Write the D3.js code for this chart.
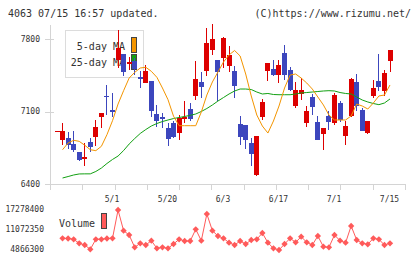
<!DOCTYPE html>
<html><head><meta charset="utf-8">
<script src="https://cdn.jsdelivr.net/npm/d3@7"></script>
<style>
html,body{margin:0;padding:0;background:#fff;}
svg{display:block;}
text{font-family:"DejaVu Sans Mono","Liberation Mono",monospace;fill:#333;}
</style></head><body>
<svg id="c" width="420" height="259"></svg>
<script>
// ---- data ----
const tickIndex  = [10, 20, 30, 40, 50, 60];
const tickLabels = ['5/1', '5/20', '6/3', '6/17', '7/1', '7/15'];
const priceTicks = [6400, 7100, 7800];
const volumeTicks = [4866300, 11072350, 17278400];

const open  = [6910,6828,6844,6786,6709,6644,6803,6851,7044,7253,7114,7597,7652,7556,7588,7430,7375,7392,7076,7044,6941,6989,6892,7030,7127,7247,7385,7494,7694,7602,7621,7542,7494,6979,6967,6796,6490,7047,7488,7510,7449,7665,7498,7150,7272,6989,7237,6999,6883,7054,6989,7182,6866,7054,7385,7114,6892,7253,7397,7295,7585];
const high  = [6910,6989,6900,6912,6712,6793,6841,7018,7086,7359,7279,7887,7652,7629,7617,7488,7549,7392,7160,7086,6989,7011,7066,7201,7182,7585,7481,7909,7945,7602,7822,7732,7536,7054,6967,6844,6861,7224,7568,7594,7594,7739,7527,7385,7423,7150,7269,7054,6941,7102,7279,7198,7005,7423,7462,7134,7005,7407,7655,7504,7691];
const low   = [6910,6774,6735,6712,6622,6577,6712,6767,6941,7063,7047,7520,7446,7501,7455,7327,7375,7044,6947,6941,6764,6844,6825,6992,7005,7214,7230,7446,7646,7201,7523,7486,7230,6779,6741,6571,6474,7021,7392,7440,7375,7407,7295,7134,7214,6950,7069,6828,6731,6924,6973,6996,6779,7044,7108,6915,6883,7230,7301,7247,7478];
const close = [6910,6909,6774,6731,6632,6658,6762,6947,7083,7240,7100,7713,7481,7575,7506,7417,7488,7102,7011,7030,6837,6851,7037,7050,7030,7414,7337,7766,7797,7477,7814,7645,7349,6854,6828,6693,6861,7192,7568,7455,7546,7455,7310,7305,7308,7102,7146,6828,6941,6999,7256,7021,6957,7417,7156,6915,7005,7327,7337,7472,7691];
const ma5   = [null,6731,6796,6822,6812,6774,6731,6722,6764,6876,7011,7172,7301,7423,7478,7520,7527,7488,7430,7327,7214,7054,6963,6963,6963,6963,7095,7259,7385,7481,7578,7646,7689,7636,7462,7250,7066,6960,6892,7008,7153,7327,7452,7462,7423,7375,7317,7240,7163,7066,7018,7018,7018,7057,7172,7153,7124,7182,7250,7259,7356];
const ma25  = [null,6458,6472,6487,6497,6498,6498,6521,6554,6598,6637,6670,6723,6786,6839,6888,6926,6960,6984,7003,7018,7032,7042,7052,7063,7076,7100,7129,7163,7201,7235,7269,7298,7317,7317,7312,7288,7269,7274,7264,7262,7262,7262,7269,7279,7283,7288,7293,7298,7301,7298,7283,7274,7269,7240,7211,7192,7177,7166,7182,7221];
const volume = [null,8496800,8434800,8186500,6945300,6417800,5083500,8186500,8186500,8434800,8496800,17278400,10855100,9520800,5704100,6945300,6417800,7752100,5393800,5704100,5393800,6728100,8186500,7659000,7659000,11289600,7752100,16037200,10855100,9210500,8496800,7131500,6417800,7659000,6728100,7969300,8186500,10141400,7131500,5393800,4866300,6728100,8496800,7255600,8993300,7255600,6417800,9210500,5890300,5704100,9520800,7752100,7131500,12313600,7969300,6945300,6635000,8496800,8186500,6417800,6945300];

// ---- styles ----
const RED = '#dd0000', BLUE = '#3c46bd', ORANGE = '#f39500', GREEN = '#12a012', VOL = '#ff5a5a', GRID = '#d4d4d4';

const svg = d3.select('#c');
const n = close.length;
const x = d3.scaleLinear().domain([0, n - 1]).range([56.5, 389.5]);
const y = d3.scaleLinear().domain([6400, 7800]).range([184, 39]);
const yv = d3.scaleLinear().domain([4866300, 17278400]).range([250, 210]);
const gridX = d3.scaleLinear().domain([0, 11]).range([50, 405]);

// header
svg.append('text').attr('x', 8).attr('y', 16.5).attr('font-size', 10).text('4063 07/15 16:57 updated.');
svg.append('text').attr('x', 411).attr('y', 16.5).attr('font-size', 10).attr('text-anchor', 'end').text('(C)https://www.rizumu.net/');

// axes
const ax = svg.append('g').attr('stroke', GRID).attr('stroke-width', 1).attr('shape-rendering', 'crispEdges');
ax.append('line').attr('x1', 50.5).attr('x2', 50.5).attr('y1', 25).attr('y2', 190);
ax.append('line').attr('x1', 45).attr('x2', 405).attr('y1', 184.5).attr('y2', 184.5);
ax.selectAll('.gt').data(d3.range(12)).join('line')
  .attr('x1', k => Math.round(gridX(k)) + 0.5).attr('x2', k => Math.round(gridX(k)) + 0.5)
  .attr('y1', 184).attr('y2', 190);
ax.selectAll('.yt').data(priceTicks).join('line')
  .attr('x1', 45).attr('x2', 54)
  .attr('y1', d => Math.round(y(d)) + 0.5).attr('y2', d => Math.round(y(d)) + 0.5);

svg.selectAll('.yl').data(priceTicks).join('text')
  .attr('x', 40).attr('y', d => y(d)).attr('dy', '0.35em')
  .attr('text-anchor', 'end').attr('font-size', 8).text(d => d);

svg.selectAll('.xl').data(tickIndex).join('text')
  .attr('x', d => x(d)).attr('y', 201.5)
  .attr('text-anchor', 'middle').attr('font-size', 8).text((d, i) => tickLabels[i]);

svg.selectAll('.vl').data(volumeTicks).join('text')
  .attr('x', 44).attr('y', d => yv(d) - 0.5).attr('dy', '0.35em')
  .attr('text-anchor', 'end').attr('font-size', 8).text(d => d);

// legend
const lg = svg.append('g');
lg.append('rect').attr('x', 65.5).attr('y', 30.5).attr('width', 78).attr('height', 47)
  .attr('fill', '#fff').attr('stroke', '#dcdcdc');
lg.append('text').attr('x', 125).attr('y', 49.5).attr('text-anchor', 'end').attr('font-size', 10).text('5-day MA');
lg.append('text').attr('x', 125).attr('y', 65.5).attr('text-anchor', 'end').attr('font-size', 10).text('25-day MA');
lg.append('rect').attr('x', 131.5).attr('y', 37.5).attr('width', 5).attr('height', 15).attr('fill', ORANGE).attr('stroke', '#444');
lg.append('rect').attr('x', 131.5).attr('y', 54.5).attr('width', 5).attr('height', 15).attr('fill', GREEN).attr('stroke', '#444');

// candles
const cg = svg.append('g').attr('shape-rendering', 'crispEdges');
const idx = d3.range(n);
cg.selectAll('.wick').data(idx).join('rect')
  .attr('x', i => Math.round(x(i)))
  .attr('width', 1)
  .attr('y', i => Math.round(y(high[i])))
  .attr('height', i => Math.max(1, Math.round(y(low[i])) - Math.round(y(high[i]))))
  .attr('fill', i => close[i] >= open[i] ? RED : BLUE);
cg.selectAll('.body').data(idx).join('rect')
  .attr('x', i => Math.round(x(i)) - 2)
  .attr('width', 5)
  .attr('y', i => Math.round(y(Math.max(open[i], close[i]))))
  .attr('height', i => Math.max(1, Math.round(y(Math.min(open[i], close[i]))) - Math.round(y(Math.max(open[i], close[i])))))
  .attr('fill', i => close[i] >= open[i] ? RED : BLUE);

// moving averages
const line = arr => d3.line().defined(i => arr[i] != null).x(i => x(i) + 0.5).y(i => y(arr[i]))(idx);
svg.append('path').attr('d', line(ma25)).attr('fill', 'none').attr('stroke', GREEN).attr('stroke-width', 1);
svg.append('path').attr('d', line(ma5)).attr('fill', 'none').attr('stroke', ORANGE).attr('stroke-width', 1);

// volume
const vIdx = idx.filter(i => volume[i] != null);
svg.append('path')
  .attr('d', d3.line().x(i => x(i) + 0.5).y(i => yv(volume[i]))(vIdx))
  .attr('fill', 'none').attr('stroke', VOL).attr('stroke-width', 1);
const sym = d3.symbol(d3.symbolSquare, 20);
svg.selectAll('.vp').data(vIdx).join('path')
  .attr('d', sym)
  .attr('transform', i => `translate(${x(i) + 0.5},${yv(volume[i])}) rotate(45)`)
  .attr('fill', VOL);

svg.append('text').attr('x', 59).attr('y', 227).attr('font-size', 10).text('Volume');
svg.append('rect').attr('x', 101.5).attr('y', 213.5).attr('width', 5).attr('height', 15).attr('fill', VOL).attr('stroke', '#444');
</script>
</body></html>
